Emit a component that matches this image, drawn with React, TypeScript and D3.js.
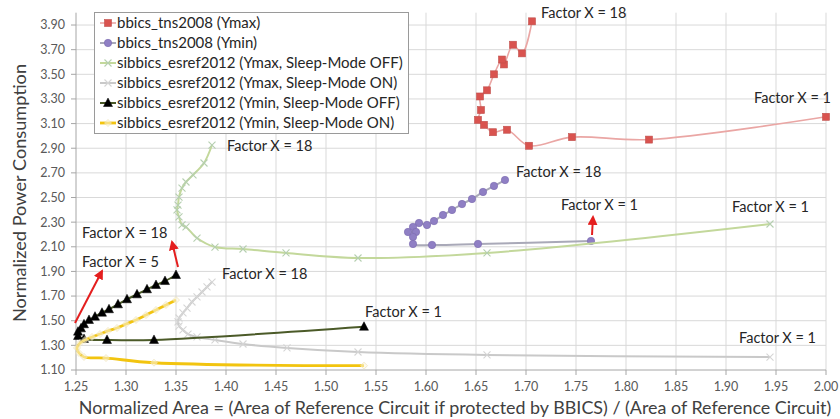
import React from 'react';
import * as d3 from 'd3';

const W = 840, H = 419;
const FONT = 'Lato, "Liberation Sans", sans-serif';

const xTicks = [1.25, 1.3, 1.35, 1.4, 1.45, 1.5, 1.55, 1.6, 1.65, 1.7, 1.75, 1.8, 1.85, 1.9, 1.95, 2.0];
const yTicks = [1.1, 1.3, 1.5, 1.7, 1.9, 2.1, 2.3, 2.5, 2.7, 2.9, 3.1, 3.3, 3.5, 3.7, 3.9];

// bbics_tns2008 (Ymax) : Factor 18 -> 1
const tnsMaxX = [1.706, 1.696, 1.687, 1.678, 1.676, 1.668, 1.661, 1.654, 1.655, 1.652, 1.658, 1.667, 1.681, 1.703, 1.746, 1.823, 2.0];
const tnsMaxY = [3.93, 3.67, 3.74, 3.58, 3.62, 3.5, 3.37, 3.32, 3.21, 3.13, 3.09, 3.03, 3.05, 2.92, 2.99, 2.97, 3.155];

// bbics_tns2008 (Ymin)
const tnsMinX = [1.679, 1.668, 1.657, 1.646, 1.636, 1.626, 1.617, 1.608, 1.601, 1.593, 1.587, 1.59, 1.582, 1.587, 1.587, 1.606, 1.652, 1.765];
const tnsMinY = [2.642, 2.594, 2.545, 2.488, 2.447, 2.399, 2.358, 2.309, 2.277, 2.293, 2.261, 2.22, 2.22, 2.18, 2.123, 2.115, 2.123, 2.147];

// sibbics_esref2012 (Ymax, Sleep-Mode OFF)
const esMaxOffX = [1.386, 1.378, 1.367, 1.36, 1.356, 1.353, 1.352, 1.351, 1.353, 1.356, 1.36, 1.371, 1.389, 1.417, 1.46, 1.532, 1.661, 1.944];
const esMaxOffY = [2.926, 2.78, 2.683, 2.626, 2.577, 2.504, 2.439, 2.399, 2.342, 2.277, 2.261, 2.171, 2.098, 2.082, 2.05, 2.009, 2.05, 2.285];

// sibbics_esref2012 (Ymax, Sleep-Mode ON)
const esMaxOnX = [1.386, 1.381, 1.376, 1.371, 1.366, 1.361, 1.357, 1.353, 1.352, 1.353, 1.357, 1.362, 1.371, 1.389, 1.417, 1.461, 1.532, 1.661, 1.944];
const esMaxOnY = [1.814, 1.774, 1.733, 1.693, 1.652, 1.603, 1.563, 1.522, 1.49, 1.457, 1.425, 1.392, 1.368, 1.344, 1.311, 1.279, 1.246, 1.222, 1.205];

// sibbics_esref2012 (Ymin, Sleep-Mode OFF)
const esMinOffX = [1.35, 1.339, 1.33, 1.321, 1.311, 1.301, 1.292, 1.283, 1.276, 1.269, 1.263, 1.258, 1.255, 1.252, 1.252, 1.258, 1.281, 1.328, 1.538];
const esMinOffY = [1.871, 1.822, 1.79, 1.755, 1.714, 1.674, 1.633, 1.593, 1.565, 1.533, 1.506, 1.471, 1.438, 1.411, 1.376, 1.352, 1.344, 1.344, 1.451];

// sibbics_esref2012 (Ymin, Sleep-Mode ON)
const esMinOnX = [1.35, 1.34, 1.33, 1.32, 1.31, 1.3, 1.291, 1.282, 1.274, 1.266, 1.259, 1.254, 1.251, 1.253, 1.258, 1.28, 1.328, 1.538];
const esMinOnY = [1.668, 1.628, 1.587, 1.546, 1.506, 1.473, 1.441, 1.417, 1.392, 1.368, 1.344, 1.319, 1.279, 1.238, 1.206, 1.197, 1.159, 1.135];

const legendLabels = [
  'bbics_tns2008 (Ymax)',
  'bbics_tns2008 (Ymin)',
  'sibbics_esref2012 (Ymax, Sleep-Mode OFF)',
  'sibbics_esref2012 (Ymax, Sleep-Mode ON)',
  'sibbics_esref2012 (Ymin, Sleep-Mode OFF)',
  'sibbics_esref2012 (Ymin, Sleep-Mode ON)',
];

// annotation labels: text, x (data), y (data)
const noteText = ['Factor X = 18', 'Factor X = 1', 'Factor X = 18', 'Factor X = 1', 'Factor X = 1', 'Factor X = 1', 'Factor X = 1', 'Factor X = 18', 'Factor X = 18', 'Factor X = 5', 'Factor X = 18'];
const noteX = [1.715, 1.928, 1.69, 1.735, 1.906, 1.913, 1.539, 1.396, 1.401, 1.256, 1.256];
const noteY = [4.0, 3.308, 2.707, 2.439, 2.423, 1.36, 1.571, 1.879, 2.918, 1.977, 2.212];

// red arrows: from (x0,y0) to (x1,y1) data
const arrowX0 = [1.249, 1.352, 1.766];
const arrowY0 = [1.481, 1.936, 2.196];
const arrowX1 = [1.276, 1.346, 1.767];
const arrowY1 = [1.904, 2.139, 2.342];

const x = d3.scaleLinear().domain([1.25, 2.0]).range([76, 826]);
const y = d3.scaleLinear().domain([1.1, 4.0]).range([370, 12.7]);

const zip = (xs: number[], ys: number[]) => xs.map((v, i) => [v, ys[i]] as [number, number]);
const line = d3.line<[number, number]>().x(d => x(d[0])).y(d => y(d[1])).curve(d3.curveCatmullRom.alpha(0.5));

type Marker = 'square' | 'circle' | 'cross' | 'triangle' | 'diamond';

function MarkerShape({ type, cx, cy, fill, stroke }: { type: Marker; cx: number; cy: number; fill: string; stroke: string }) {
  switch (type) {
    case 'square':
      return <rect x={cx - 3.5} y={cy - 3.5} width={7} height={7} fill={fill} stroke={stroke} strokeWidth={0.6} />;
    case 'circle':
      return <circle cx={cx} cy={cy} r={3.7} fill={fill} stroke={stroke} strokeWidth={0.6} />;
    case 'cross':
      return <path d={`M${cx - 3.5},${cy - 3.5}L${cx + 3.5},${cy + 3.5}M${cx - 3.5},${cy + 3.5}L${cx + 3.5},${cy - 3.5}`} stroke={stroke} strokeWidth={1.1} fill="none" />;
    case 'triangle':
      return <path d={`M${cx},${cy - 5}L${cx + 4.5},${cy + 3.5}L${cx - 4.5},${cy + 3.5}Z`} fill={fill} stroke={stroke} strokeWidth={0.5} />;
    case 'diamond':
      return <path d={`M${cx},${cy - 3.5}L${cx + 3.5},${cy}L${cx},${cy + 3.5}L${cx - 3.5},${cy}Z`} fill={fill} fillOpacity={0.55} stroke={stroke} strokeWidth={0.8} strokeOpacity={0.8} />;
  }
}

const series = [
  { xs: tnsMaxX, ys: tnsMaxY, line: '#eaa6a4', lw: 1.6, marker: 'square' as Marker, mfill: '#d9534f', mstroke: '#c0504d' },
  { xs: tnsMinX, ys: tnsMinY, line: '#a9a9b8', lw: 2, marker: 'circle' as Marker, mfill: '#8f7fc4', mstroke: '#7a6aae' },
  { xs: esMaxOffX, ys: esMaxOffY, line: '#c3d89b', lw: 2, marker: 'cross' as Marker, mfill: 'none', mstroke: '#b5cfb0' },
  { xs: esMaxOnX, ys: esMaxOnY, line: '#c9c9c9', lw: 2, marker: 'cross' as Marker, mfill: 'none', mstroke: '#d5d5d5' },
  { xs: esMinOffX, ys: esMinOffY, line: '#4b5a28', lw: 2, marker: 'triangle' as Marker, mfill: '#000000', mstroke: '#000000' },
  { xs: esMinOnX, ys: esMinOnY, line: '#f2c40f', lw: 2.8, marker: 'diamond' as Marker, mfill: '#fbf5dc', mstroke: '#ece0b4' },
];

export default function App() {
  return (
    <svg width={W} height={H} viewBox={`0 0 ${W} ${H}`} style={{ position: 'absolute', left: 0, top: 0, background: '#fff' }} fontFamily={FONT}>
      <defs>
        <marker id="ah" viewBox="0 0 10 10" refX="8" refY="5" markerWidth="5" markerHeight="5" orient="auto-start-reverse">
          <path d="M0,0L10,5L0,10Z" fill="#e41e1e" />
        </marker>
      </defs>
      {/* gridlines */}
      <g stroke="#d9d9d9" strokeWidth={1}>
        {xTicks.slice(1).map(t => <line key={'gx' + t} x1={x(t)} x2={x(t)} y1={y(4.0)} y2={y(1.1)} />)}
        {yTicks.slice(1).map(t => <line key={'gy' + t} x1={x(1.25)} x2={x(2.0)} y1={y(t)} y2={y(t)} />)}
      </g>
      {/* axes */}
      <g stroke="#a6a6a6" strokeWidth={1}>
        <line x1={x(1.25)} x2={x(1.25)} y1={y(4.0)} y2={y(1.1)} />
        <line x1={x(1.25)} x2={x(2.0)} y1={y(1.1)} y2={y(1.1)} />
        {yTicks.map(t => <line key={'ty' + t} x1={x(1.25) - 5} x2={x(1.25)} y1={y(t)} y2={y(t)} />)}
        {xTicks.map(t => <line key={'tx' + t} x1={x(t)} x2={x(t)} y1={y(1.1)} y2={y(1.1) + 5} />)}
      </g>
      <g fill="#595959" fontSize={12.5}>
        {yTicks.map(t => <text key={'ly' + t} x={x(1.25) - 11} y={y(t)} dy="0.35em" textAnchor="end">{t.toFixed(2)}</text>)}
        {xTicks.map(t => <text key={'lx' + t} x={x(t)} y={387} dy="0.35em" textAnchor="middle">{t.toFixed(2)}</text>)}
      </g>
      {/* axis titles */}
      <text x={455} y={408} dy="0.35em" textAnchor="middle" fontSize={17.9} fill="#404040">Normalized Area = (Area of Reference Circuit if protected by BBICS) / (Area of Reference Circuit)</text>
      <text transform="translate(20,193) rotate(-90)" dy="0.35em" textAnchor="middle" fontSize={18.2} fill="#404040">Normalized Power Consumption</text>

      {/* series */}
      {series.map((s, i) => {
        const pts = zip(s.xs, s.ys);
        return (
          <g key={'s' + i}>
            <path d={line(pts) || ''} fill="none" stroke={s.line} strokeWidth={s.lw} />
            {pts.map((p, j) => <MarkerShape key={j} type={s.marker} cx={x(p[0])} cy={y(p[1])} fill={s.mfill} stroke={s.mstroke} />)}
          </g>
        );
      })}

      {/* arrows */}
      {arrowX0.map((v, i) => (
        <line key={'ar' + i} x1={x(v)} y1={y(arrowY0[i])} x2={x(arrowX1[i])} y2={y(arrowY1[i])} stroke="#e41e1e" strokeWidth={2} markerEnd="url(#ah)" />
      ))}

      {/* annotations */}
      <g fontSize={14.5} fill="#262626">
        {noteText.map((t, i) => <text key={'n' + i} x={x(noteX[i])} y={y(noteY[i])} dy="0.35em">{t}</text>)}
      </g>

      {/* legend */}
      <g>
        <rect x={94.5} y={12.5} width={314} height={121} fill="#fff" stroke="#9a9a9a" strokeWidth={1} />
        {legendLabels.map((lab, i) => {
          const s = series[i];
          const cy = 23 + i * 20;
          return (
            <g key={'lg' + i}>
              <line x1={100} x2={116} y1={cy} y2={cy} stroke={s.line} strokeWidth={s.lw} />
              <MarkerShape type={s.marker} cx={108} cy={cy} fill={s.mfill} stroke={s.mstroke} />
              <text x={117} y={cy} dy="0.35em" fontSize={15} fill="#262626">{lab}</text>
            </g>
          );
        })}
      </g>
    </svg>
  );
}
